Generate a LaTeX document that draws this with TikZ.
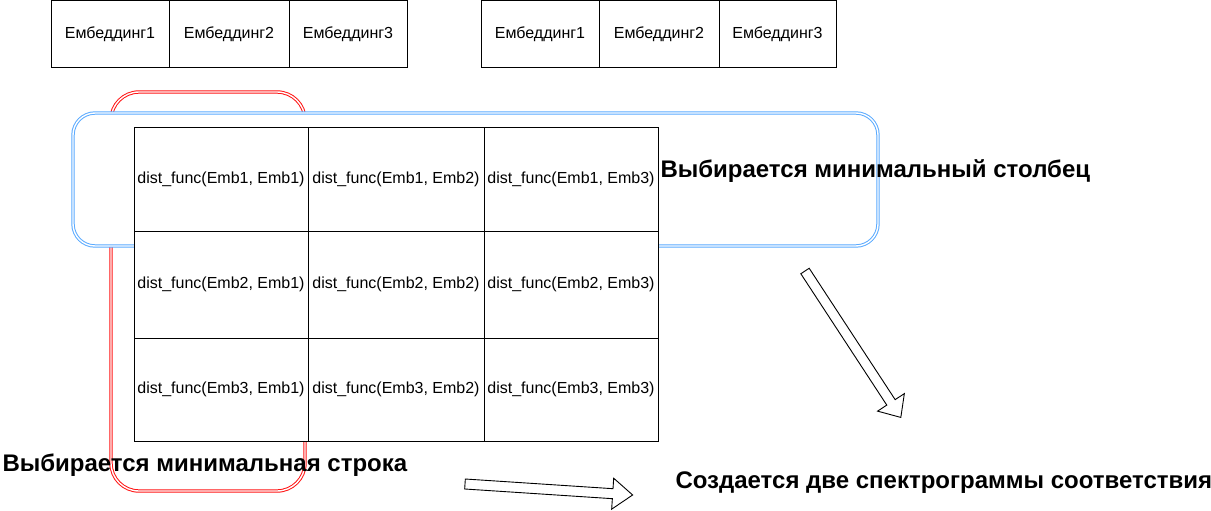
\documentclass[tikz,border=0pt]{standalone}
\usepackage{fontspec}
\setmainfont{Liberation Sans}
\usetikzlibrary{positioning}
\definecolor{selred}{RGB}{255,20,20}
\definecolor{selblue}{RGB}{90,170,255}
\tikzset{
  embbox/.style={draw, minimum height=67, inner sep=0, outer sep=0, font=\fontsize{16}{19}\selectfont},
  cell/.style={draw, fill=white, inner sep=0, outer sep=0, font=\fontsize{16}{19}\selectfont},
  caption/.style={font=\fontsize{24}{28}\selectfont\bfseries, inner sep=0},
  selframe/.style={double=white, double distance=1.4pt, line width=1pt},
  hollow/.style={draw, fill=white, line width=0.9pt, line join=miter}
}
\begin{document}
\begin{tikzpicture}[x=1pt, y=-1pt, line width=1pt]
  \useasboundingbox (0,0) rectangle (1211,511);
  % embeddings, two groups
  \node[embbox, minimum width=118, anchor=north west] (el1) at (51,0.5) {Ембеддинг1};
  \node[embbox, minimum width=120, right=0pt of el1] (el2) {Ембеддинг2};
  \node[embbox, minimum width=118, right=0pt of el2] (el3) {Ембеддинг3};
  \node[embbox, minimum width=118, anchor=north west] (er1) at (481,0.5) {Ембеддинг1};
  \node[embbox, minimum width=120, right=0pt of er1] (er2) {Ембеддинг2};
  \node[embbox, minimum width=117, right=0pt of er2] (er3) {Ембеддинг3};
  % selections
  \draw[selframe, draw=selred, rounded corners=28] (111,92) rectangle (305,491);
  \draw[selframe, draw=selblue, fill=white, rounded corners=22] (73,113) rectangle (878,246);
  % distance matrix
  \foreach \r/\y/\h in {1/127/104, 2/231/107, 3/338/103}
    \foreach \c/\x/\w in {1/134/174, 2/308/176, 3/484/174}
      \node[cell, minimum width=\w, minimum height=\h, anchor=north west] (c\r\c) at (\x,\y) {dist\_func(Emb\r, Emb\c)};
  \node[caption, anchor=west] (colcap) at (660,171) {Выбирается минимальный столбец};
  \node[caption, anchor=west] (rowcap) at (2,465) {Выбирается минимальная строка};
  \node[caption, anchor=west] (speccap) at (675,483) {Создается две спектрограммы соответствия};
  % hollow arrows
  \begin{scope}[shift={(805,271)}, rotate=-56.8]
    \draw[hollow] (0,-5) -- (157,-5) -- (157,-16) -- (175,0) -- (157,16) -- (157,5) -- (0,5) -- cycle;
  \end{scope}
  \begin{scope}[shift={(465,484)}, rotate=-3.75]
    \draw[hollow] (0,-5) -- (148,-5) -- (148,-15.5) -- (168,0) -- (148,15.5) -- (148,5) -- (0,5) -- cycle;
  \end{scope}
\end{tikzpicture}
\end{document}
